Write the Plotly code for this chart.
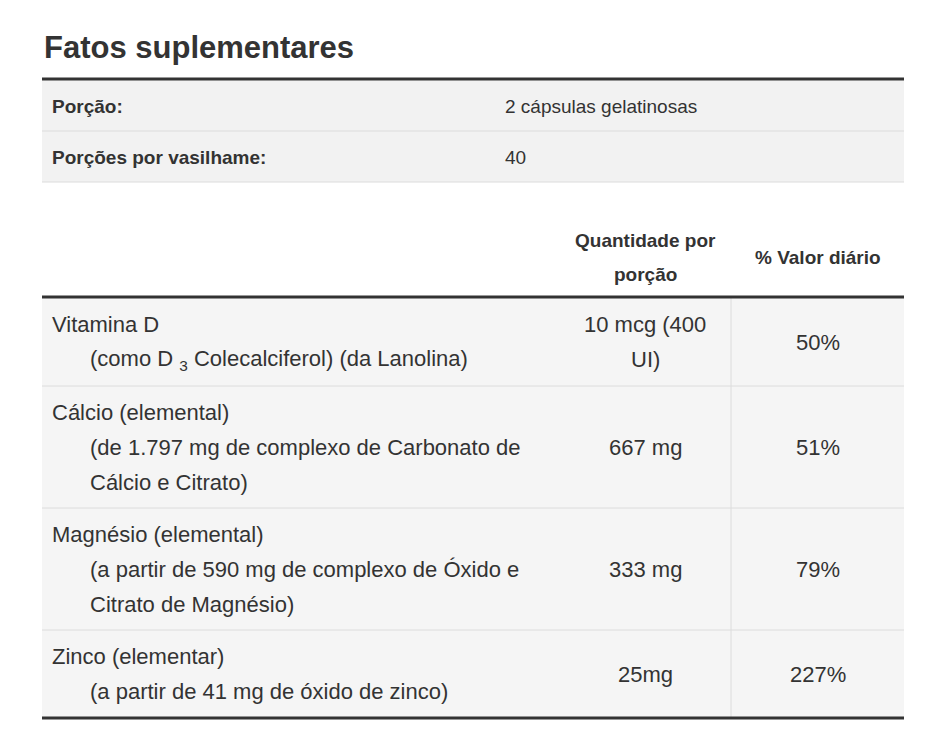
import plotly.graph_objects as go

title = "Fatos suplementares"
serving_labels = ["Porção:", "Porções por vasilhame:"]
serving_values = ["2 cápsulas gelatinosas", "40"]
header_amount = ["Quantidade por", "porção"]
header_dv = "% Valor diário"
nutrients = ["Vitamina D", "Cálcio (elemental)", "Magnésio (elemental)", "Zinco (elementar)"]
details = [
    ["(como D <sub>3</sub> Colecalciferol) (da Lanolina)"],
    ["(de 1.797 mg de complexo de Carbonato de", "Cálcio e Citrato)"],
    ["(a partir de 590 mg de complexo de Óxido e", "Citrato de Magnésio)"],
    ["(a partir de 41 mg de óxido de zinco)"],
]
amounts = [["10 mcg (400", "UI)"], ["667 mg"], ["333 mg"], ["25mg"]]
daily_values = ["50%", "51%", "79%", "227%"]

FONT = "Liberation Sans, Arial, sans-serif"
TXT = "#333333"
L, R = 44, 906
COLX = 733
BODY = 22
fig = go.Figure()
shapes, ann = [], []

def text(x, y, s, size=BODY, bold=False, anchor="left"):
    ann.append(dict(x=x, y=y, text=f"<b>{s}</b>" if bold else s, showarrow=False,
                    xanchor=anchor, yanchor="middle",
                    font=dict(family=FONT, size=size, color=TXT)))

def rect(y0, y1, color):
    shapes.append(dict(type="rect", x0=L, x1=R, y0=y0, y1=y1, fillcolor=color, line_width=0, layer="below"))

def hline(y, w, color):
    shapes.append(dict(type="line", x0=L, x1=R, y0=y, y1=y, line=dict(color=color, width=w)))

text(44, 47, title, size=31, bold=True)
top = 80
for i, (lab, val) in enumerate(zip(serving_labels, serving_values)):
    y0 = top + i * 51
    rect(y0, y0 + 51, "#f2f2f2")
    hline(y0 + 51, 1, "#dcdcdc")
    text(52, y0 + 26, lab, size=19, bold=True)
    text(505, y0 + 26, val, size=19)
hline(79, 3, "#333333")

text(647, 240, header_amount[0], size=19, bold=True, anchor="center")
text(647, 274, header_amount[1], size=19, bold=True, anchor="center")
text(820, 257, header_dv, size=19, bold=True, anchor="center")

bounds = [298, 386, 508, 630, 718]
LH = 35
for i in range(len(nutrients)):
    y0, y1 = bounds[i], bounds[i + 1]
    rect(y0, y1, "#f5f5f5")
    lines = [nutrients[i]] + details[i]
    n = len(lines)
    ys = y0 + (y1 - y0) / 2 - (n - 1) * LH / 2
    for j, s in enumerate(lines):
        text(52 if j == 0 else 90, ys + j * LH, s)
    am = amounts[i]
    ya = y0 + (y1 - y0) / 2 - (len(am) - 1) * LH / 2
    for j, s in enumerate(am):
        text(647, ya + j * LH, s, anchor="center")
    text(820, y0 + (y1 - y0) / 2, daily_values[i], anchor="center")
    if i < len(nutrients) - 1:
        hline(y1, 1, "#dcdcdc")
    shapes.append(dict(type="line", x0=COLX, x1=COLX, y0=y0, y1=y1, line=dict(color="#dcdcdc", width=1)))
hline(297, 3, "#333333")
hline(718, 3, "#333333")

fig.update_layout(width=950, height=754, margin=dict(l=0, r=0, t=0, b=0),
                  paper_bgcolor="white", plot_bgcolor="white",
                  xaxis=dict(range=[10, 960], visible=False, fixedrange=True),
                  yaxis=dict(range=[762, 8], visible=False, fixedrange=True),
                  shapes=shapes, annotations=ann, showlegend=False)
fig.write_html("out.html", config={"displayModeBar": False})
